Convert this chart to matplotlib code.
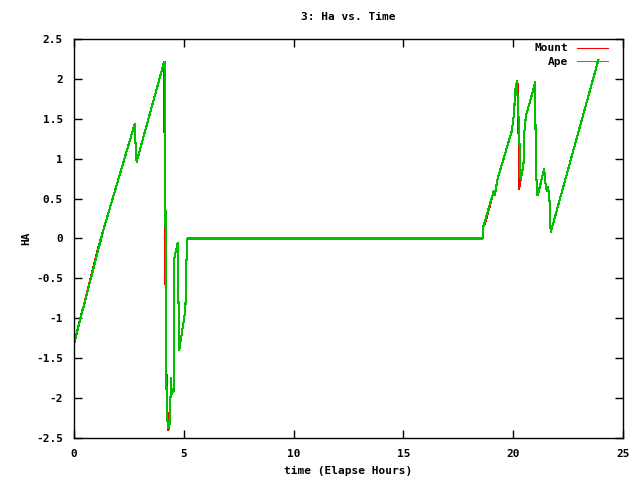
import matplotlib
matplotlib.use("Agg")
import matplotlib.pyplot as plt

# Ape track (elapsed hours, HA)
ape_t = [0.0, 1.33, 2.77, 2.80, 2.85, 4.10, 4.15, 4.18, 4.20, 4.22, 4.27, 4.33,
         4.36, 4.42, 4.45, 4.55, 4.57, 4.60, 4.72, 4.79, 5.07, 5.12, 5.15,
         18.60, 18.63, 19.12, 19.16, 19.29, 19.94, 20.05, 20.07, 20.12, 20.18,
         20.21, 20.27, 20.32, 20.35, 20.42, 20.47, 20.50, 20.58, 20.80, 21.00,
         21.03, 21.10, 21.15, 21.41, 21.45, 21.49, 21.54, 21.59, 21.65, 21.68,
         21.71, 23.88]
ape_ha = [-1.32, 0.10, 1.44, 1.20, 0.96, 2.21, 2.21, -1.30, -1.60, -2.05, -2.37, -2.37,
          -2.30, -1.75, -1.95, -1.90, -0.25, -0.20, -0.06, -1.40, -0.90, -0.30, 0.0,
          0.0, 0.14, 0.60, 0.54, 0.75, 1.35, 1.60, 1.77, 1.92, 1.97,
          1.65, 1.40, 0.77, 0.75, 0.85, 0.95, 1.31, 1.54, 1.75, 1.96,
          0.89, 0.54, 0.58, 0.87, 0.75, 0.64, 0.60, 0.64, 0.50, 0.20,
          0.08, 2.24]

# Mount track: same as Ape except where the red shows through
mount_t = [0.0, 1.09, 1.33, 2.77, 2.80, 2.85, 4.10, 4.12, 4.13, 4.15, 4.16, 4.17,
           4.19, 4.20, 4.22, 4.23, 4.25, 4.29, 4.33, 4.36, 4.42, 4.45, 4.55, 4.57,
           4.60, 4.72, 4.79, 5.07, 5.12, 5.15,
           18.60, 18.63, 18.73, 19.12, 19.16, 19.29, 19.94, 20.05, 20.07, 20.12,
           20.18, 20.22, 20.27, 20.31, 20.35, 20.42, 20.47, 20.50, 20.58, 20.80,
           21.00, 21.03, 21.10, 21.15, 21.41, 21.45, 21.49, 21.54, 21.59, 21.65,
           21.68, 21.71, 23.88]
mount_ha = [-1.32, -0.13, 0.10, 1.44, 1.20, 0.96, 2.21, 1.35, 1.27, 1.20, -0.38, -0.63,
            -1.32, -1.59, -1.80, -1.94, -2.13, -2.40, -2.37, -2.30, -1.75, -1.95, -1.90, -0.25,
            -0.20, -0.06, -1.40, -0.90, -0.30, 0.0,
            0.0, 0.14, 0.20, 0.60, 0.54, 0.75, 1.35, 1.60, 1.77, 1.92,
            1.97, 1.88, 0.62, 0.69, 0.75, 0.85, 0.95, 1.31, 1.54, 1.75,
            1.96, 0.89, 0.54, 0.58, 0.87, 0.75, 0.64, 0.60, 0.64, 0.50,
            0.20, 0.08, 2.24]

x_ticks = [0, 5, 10, 15, 20, 25]
y_ticks = [-2.5, -2, -1.5, -1, -0.5, 0, 0.5, 1, 1.5, 2, 2.5]
y_labels = ["-2.5", "-2", "-1.5", "-1", "-0.5", "0", "0.5", "1", "1.5", "2", "2.5"]

plt.rcParams['font.family'] = ['DejaVu Sans Mono']
plt.rcParams['font.size'] = 8
plt.rcParams['font.weight'] = 'bold'

fig = plt.figure(figsize=(6.4, 4.8), dpi=100)
ax = fig.add_axes([74/640, 42/480, 549/640, 399/480])

ax.plot(mount_t, mount_ha, color='#ff0000', lw=0.75, label='Mount', antialiased=False)
ax.plot(ape_t, ape_ha, color='#00c000', lw=0.75, label='Ape', antialiased=False)

ax.set_xlim(0, 25)
ax.set_ylim(-2.5, 2.5)
ax.set_xticks(x_ticks)
ax.set_yticks(y_ticks)
ax.set_yticklabels(y_labels)
ax.tick_params(direction='in', length=6, width=1, top=True, right=True,
               labelsize=8, pad=8)
for s in ax.spines.values():
    s.set_linewidth(1)

ax.set_title('3: Ha vs. Time', fontsize=8, fontweight='bold', pad=14)
ax.set_xlabel('time (Elapse Hours)', fontsize=8, fontweight='bold', labelpad=5)
ax.set_ylabel('HA', fontsize=8, fontweight='bold', labelpad=3)

leg = ax.legend(loc='upper right', bbox_to_anchor=(0.9807, 1.0), frameon=False,
                markerfirst=False, handlelength=2.8, handletextpad=0.8,
                labelspacing=0.35, borderaxespad=0, fontsize=8)

fig.savefig('out.png', dpi=100)
